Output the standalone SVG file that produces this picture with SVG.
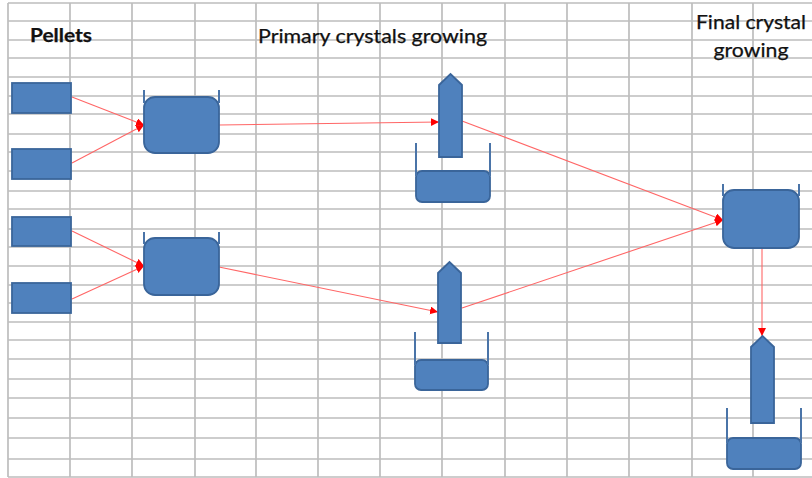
<svg xmlns="http://www.w3.org/2000/svg" width="812" height="478" viewBox="0 0 812 478">
<style>
.grid line{stroke:#bdbdbd;stroke-width:1.7}
.s{fill:#4f81bd;stroke:#3a659a;stroke-width:1.8}
.rim{fill:none;stroke:#4a74a8;stroke-width:2}
.c{stroke:#f66;stroke-width:1.1;fill:none;marker-end:url(#a)}
text{font-family:Lato,"Liberation Sans",sans-serif;fill:#111;stroke:#111;stroke-width:.25}
</style>
<defs><marker id="a" markerUnits="userSpaceOnUse" markerWidth="9" markerHeight="9" refX="8" refY="4" orient="auto"><path d="M0 0L8 4L0 8Z" fill="#f00"/></marker></defs>
<rect width="812" height="478" fill="#fff"/>
<g class="grid" id="grid">
<line x1="8" y1="3" x2="812" y2="3"/><line x1="8" y1="21" x2="812" y2="21"/><line x1="8" y1="40" x2="812" y2="40"/><line x1="8" y1="58" x2="812" y2="58"/><line x1="8" y1="77" x2="812" y2="77"/><line x1="8" y1="96" x2="812" y2="96"/><line x1="8" y1="114" x2="812" y2="114"/><line x1="8" y1="134" x2="812" y2="134"/><line x1="8" y1="152" x2="812" y2="152"/><line x1="8" y1="171" x2="812" y2="171"/><line x1="8" y1="191" x2="812" y2="191"/><line x1="8" y1="209" x2="812" y2="209"/><line x1="8" y1="229" x2="812" y2="229"/><line x1="8" y1="247" x2="812" y2="247"/><line x1="8" y1="266" x2="812" y2="266"/><line x1="8" y1="285" x2="812" y2="285"/><line x1="8" y1="303" x2="812" y2="303"/><line x1="8" y1="322" x2="812" y2="322"/><line x1="8" y1="340" x2="812" y2="340"/><line x1="8" y1="359" x2="812" y2="359"/><line x1="8" y1="379" x2="812" y2="379"/><line x1="8" y1="398" x2="812" y2="398"/><line x1="8" y1="418" x2="812" y2="418"/><line x1="8" y1="438" x2="812" y2="438"/><line x1="8" y1="459" x2="812" y2="459"/><line x1="8" y1="477" x2="812" y2="477"/>
<line x1="8" y1="3" x2="8" y2="477"/><line x1="70" y1="3" x2="70" y2="477"/><line x1="132" y1="3" x2="132" y2="477"/><line x1="195" y1="3" x2="195" y2="477"/><line x1="256" y1="3" x2="256" y2="477"/><line x1="318" y1="3" x2="318" y2="477"/><line x1="380" y1="3" x2="380" y2="477"/><line x1="442" y1="3" x2="442" y2="477"/><line x1="505" y1="3" x2="505" y2="477"/><line x1="567" y1="3" x2="567" y2="477"/><line x1="629" y1="3" x2="629" y2="477"/><line x1="692" y1="3" x2="692" y2="477"/><line x1="753" y1="3" x2="753" y2="477"/>
</g>
<g id="connectors">
<path class="c" d="M72 97L144 125"/><path class="c" d="M72 163L144 125"/><path class="c" d="M72 231L144 266"/><path class="c" d="M72 299L144 266"/>
<path class="c" d="M219 125L439 122"/><path class="c" d="M219 267L438 312"/>
<path class="c" d="M462 121L723 220"/><path class="c" d="M462 308L723 220"/><path class="c" d="M762 248L762 336"/>
</g>
<g id="pellet1"><rect class="s" x="12" y="83" width="59" height="30"/></g>
<g id="pellet2"><rect class="s" x="12" y="149" width="59" height="30"/></g>
<g id="pellet3"><rect class="s" x="12" y="217" width="59" height="29"/></g>
<g id="pellet4"><rect class="s" x="12" y="283" width="59" height="30"/></g>
<g id="tank1"><rect class="s" x="144" y="97" width="75" height="56" rx="11"/><path class="rim" d="M144 103V90M219 103V90"/></g>
<g id="tank2"><rect class="s" x="144" y="238" width="75" height="57" rx="11"/><path class="rim" d="M144 244V232M219 244V232"/></g>
<g id="tank3"><rect class="s" x="723" y="190" width="76" height="58" rx="11"/><path class="rim" d="M723 196V184M799 196V184"/></g>
<g id="crystal1"><path class="s" d="M439 85L450.500 74L462 85V157H439Z"/><rect class="s" x="416" y="171" width="74" height="31" rx="6"/><path class="rim" d="M416 176V143M490 176V143"/></g>
<g id="crystal2"><path class="s" d="M438 273L449.500 262L461 273V343H438Z"/><rect class="s" x="415" y="360" width="73" height="30" rx="6"/><path class="rim" d="M415 365V332M488 365V332"/></g>
<g id="crystal3"><path class="s" d="M751 347L762.500 336L774 347V423H751Z"/><rect class="s" x="727" y="438" width="74" height="31" rx="6"/><path class="rim" d="M727 443V408M801 443V408"/></g>
<g id="labels">
<text x="30" y="42" font-size="18" font-weight="700" textLength="62" lengthAdjust="spacingAndGlyphs">Pellets</text>
<text x="258" y="43" font-size="19" textLength="229" lengthAdjust="spacingAndGlyphs">Primary crystals growing</text>
<text x="751" y="29" font-size="19" text-anchor="middle" textLength="110" lengthAdjust="spacingAndGlyphs">Final crystal</text>
<text x="751" y="57" font-size="19" text-anchor="middle" textLength="75" lengthAdjust="spacingAndGlyphs">growing</text>
</g>
</svg>
